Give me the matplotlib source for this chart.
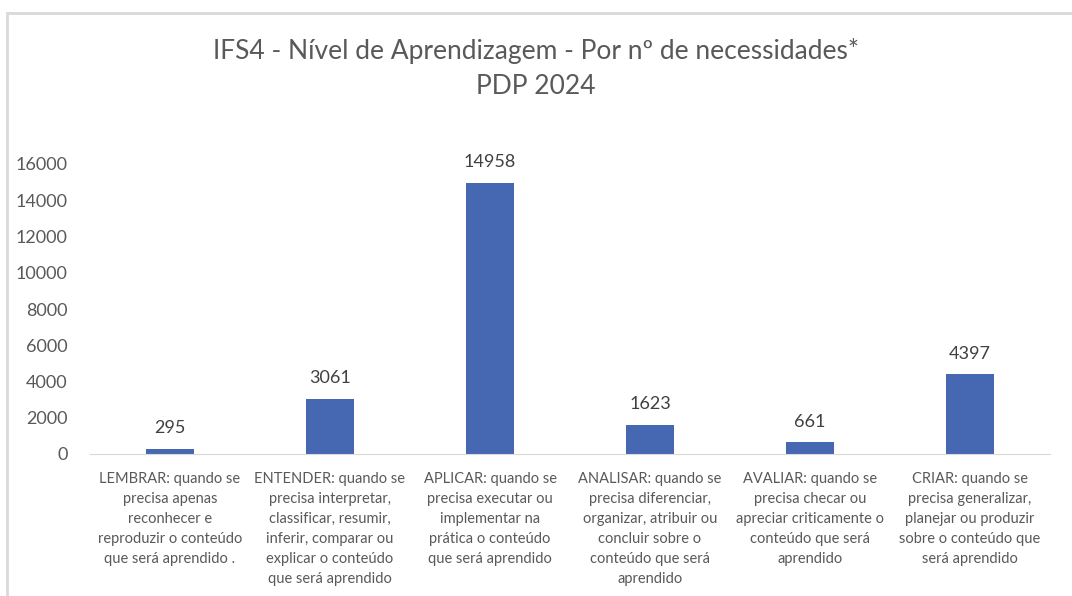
import matplotlib.pyplot as plt
from matplotlib.patches import Rectangle

categorias = [
    "LEMBRAR: quando se\nprecisa apenas\nreconhecer e\nreproduzir o conteúdo\nque será aprendido .",
    "ENTENDER: quando se\nprecisa interpretar,\nclassificar, resumir,\ninferir, comparar ou\nexplicar o conteúdo\nque será aprendido",
    "APLICAR: quando se\nprecisa executar ou\nimplementar na\nprática o conteúdo\nque será aprendido",
    "ANALISAR: quando se\nprecisa diferenciar,\norganizar, atribuir ou\nconcluir sobre o\nconteúdo que será\naprendido",
    "AVALIAR: quando se\nprecisa checar ou\napreciar criticamente o\nconteúdo que será\naprendido",
    "CRIAR: quando se\nprecisa generalizar,\nplanejar ou produzir\nsobre o conteúdo que\nserá aprendido",
]
valores = [295, 3061, 14958, 1623, 661, 4397]
yticks = [0, 2000, 4000, 6000, 8000, 10000, 12000, 14000, 16000]

plt.rcParams['font.family'] = ['Lato', 'DejaVu Sans']
cinza = "#595959"

fig = plt.figure(figsize=(10.72, 5.96), dpi=100)
fig.patches.append(Rectangle((7 / 1072, -0.1), 1.2, 1 - 13 / 596 + 0.1,
                             transform=fig.transFigure, fill=False,
                             edgecolor="#d9d9d9", linewidth=2))

ax = fig.add_axes([90 / 1072, 1 - 454 / 596, 960 / 1072, 290 / 596])
x = list(range(len(valores)))
barras = ax.bar(x, valores, width=0.30, color="#4667b2")
ax.set_xlim(-0.5, len(valores) - 0.5)
ax.set_ylim(0, 16000)
ax.set_yticks(yticks)
ax.set_yticklabels([str(t) for t in yticks], fontsize=13, color=cinza)
ax.set_xticks(x)
ax.set_xticklabels(categorias, fontsize=10.5, color=cinza, linespacing=1.55,
                   va="top")
ax.tick_params(axis="both", length=0)
ax.tick_params(axis="x", pad=13)
ax.tick_params(axis="y", pad=16)
for lado in ["top", "right", "left"]:
    ax.spines[lado].set_visible(False)
ax.spines["bottom"].set_color("#d9d9d9")

for b, v in zip(barras, valores):
    ax.annotate(str(v), (b.get_x() + b.get_width() / 2, v),
                xytext=(0, 9), textcoords="offset points",
                ha="center", va="bottom", fontsize=13, color="#404040")

fig.text(0.5, 1 - 51 / 596, "IFS4 - Nível de Aprendizagem - Por nº de necessidades*",
         ha="center", va="center", fontsize=19, color=cinza)
fig.text(0.5, 1 - 86 / 596, "PDP 2024", ha="center", va="center", fontsize=19,
         color=cinza)

fig.savefig("out.png", dpi=100)
